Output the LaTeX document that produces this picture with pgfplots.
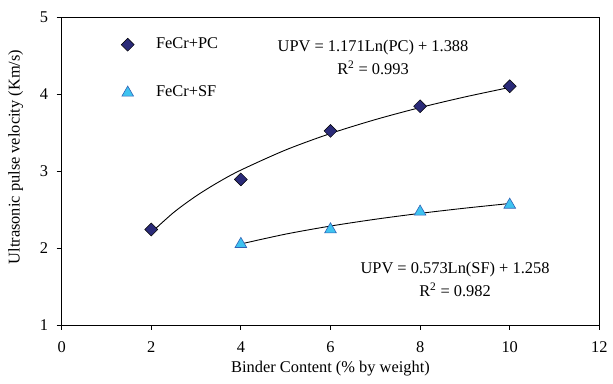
\documentclass[border=0pt]{standalone}
\usepackage{pgfplots}
\pgfplotsset{compat=1.18}
\usepackage{fontspec}
\setmainfont{Liberation Serif}
\definecolor{pcnavy}{HTML}{2A2A78}
\definecolor{sfblue}{HTML}{3EC3F0}
\definecolor{sfedge}{HTML}{2F62B5}
\begin{document}
\fontsize{16.5}{19}\selectfont
\begin{tikzpicture}
\begin{axis}[
  scale only axis,
  width=541pt, height=310pt,
  xmin=0, xmax=12, ymin=1, ymax=5,
  xtick={0,2,...,12}, ytick={1,2,3,4,5},
  tick align=outside, tick pos=left,
  major tick length=5pt,
  axis line style={line width=0.8pt},
  tick style={line width=0.8pt, black},
  /pgf/number format/assume math mode=true,
  tick label style={font=\fontsize{16.5}{19}\selectfont},
  xticklabel style={yshift=-6pt},
  yticklabel style={xshift=-3pt},
  label style={font=\fontsize{16.5}{19}\selectfont},
  xlabel={Binder Content (\% by weight)},
  ylabel={Ultrasonic pulse velocity (Km/s)},
  xlabel style={yshift=3pt},
  ylabel style={at={(axis description cs:-0.061,0.545)}, anchor=south, rotate=0},
  legend style={draw=none, fill=none, at={(0.105,0.945)}, anchor=north west,
    font=\fontsize{16.5}{19}\selectfont, row sep=31pt, column sep=20pt},
  legend cell align=left,
  clip=false,
]
\addplot[only marks, mark=square*, mark size=4.6pt, mark options={rotate=45, fill=pcnavy, draw=black, line width=0.5pt}]
  coordinates {(2,2.24) (4,2.89) (6,3.52) (8,3.84) (10,4.10)};
\addlegendentry{FeCr+PC}
\addplot[only marks, mark=triangle*, mark size=6.8pt, mark options={fill=sfblue, draw=sfedge, line width=0.6pt}]
  coordinates {(4,2.05) (6,2.24) (8,2.47) (10,2.56)};
\addlegendentry{FeCr+SF}
\addplot[black, line width=0.9pt, smooth, forget plot] coordinates {
  (2,2.1997) (2.5,2.461) (3,2.6745) (3.5,2.855) (4,3.0113) (5,3.2726)
  (6,3.4862) (7,3.6666) (8,3.8230) (9,3.9609) (10,4.0843)};
\addplot[black, line width=0.9pt, smooth, forget plot] coordinates {
  (4,2.0524) (5,2.1802) (6,2.2847) (7,2.3730) (8,2.4495) (9,2.5170) (10,2.5774)};
\node[align=center, font=\fontsize{16.5}{23}\selectfont] at (axis cs:6.95,4.47)
  {UPV = 1.171Ln(PC) + 1.388\\ R$^{\mathrm{2}}$ = 0.993};
\node[align=center, font=\fontsize{16.5}{23}\selectfont] at (axis cs:8.78,1.59)
  {UPV = 0.573Ln(SF) + 1.258\\ R$^{\mathrm{2}}$ = 0.982};
\end{axis}
\path (current axis.south west) ++(-62pt,-59pt);
\path (current axis.north east) ++(10pt,17pt);
\end{tikzpicture}
\end{document}
